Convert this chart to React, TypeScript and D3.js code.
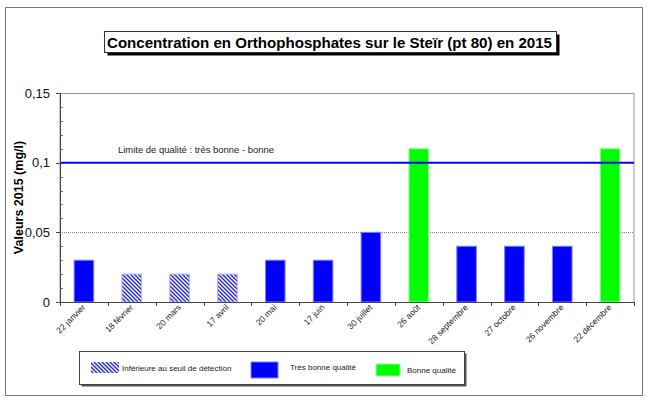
import React from "react";
import * as d3 from "d3";

const categories = [
  "22 janvier", "18 février", "20 mars", "17 avril", "20 mai", "17 juin",
  "30 juillet", "26 août", "28 septembre", "27 octobre", "26 novembre", "22 décembre",
];
const values = [0.03, 0.02, 0.02, 0.02, 0.03, 0.03, 0.05, 0.11, 0.04, 0.04, 0.04, 0.11];
// d = inférieure au seuil de détection, tb = très bonne qualité, b = bonne qualité
const quality = ["tb", "d", "d", "d", "tb", "tb", "tb", "b", "tb", "tb", "tb", "b"];
const yTicks = [0, 0.05, 0.1, 0.15];
const yTickLabels = ["0", "0,05", "0,1", "0,15"];
const minorTicks = [0.01, 0.02, 0.03, 0.04, 0.06, 0.07, 0.08, 0.09, 0.11, 0.12, 0.13, 0.14];
const threshold = 0.1;
const legendItems = [
  { key: "d", label: "Inférieure au seuil de détection" },
  { key: "tb", label: "Très bonne qualité" },
  { key: "b", label: "Bonne qualité" },
];

const FONT = "'Liberation Sans', Arial, Helvetica, sans-serif";

export default function App() {
  const W = 649, H = 401;
  const left = 60, right = 634, top = 93, bottom = 302;
  const x = d3.scaleBand<string>().domain(categories).range([left, right]).padding(0);
  const xb = d3.scaleBand<string>().domain(categories).range([left, right]).paddingInner(0.59).paddingOuter(0.295);
  const y = d3.scaleLinear().domain([0, 0.15]).range([bottom, top]);

  const fillFor = (q: string) => (q === "d" ? "url(#hatch)" : q === "tb" ? "#0000ff" : "#00ff00");
  const strokeFor = (q: string) => (q === "d" ? "#b0b0ff" : q === "tb" ? "#8080ff" : "#90ff90");

  const boundaries = categories.map((c) => x(c)!).concat([right]);

  return (
    <svg width={W} height={H} style={{ position: "absolute", left: 0, top: 0, background: "#fff" }} fontFamily={FONT}>
      <defs>
        <pattern id="hatch" patternUnits="userSpaceOnUse" width={4} height={4}>
          <rect width={4} height={4} fill="#ffffff" />
          <path d="M-1,-1 L5,5 M-1,3 L1,5 M3,-1 L5,1" stroke="#2a2aff" strokeWidth={1.5} />
        </pattern>
      </defs>

      {/* outer frame */}
      <rect x={5.5} y={7.5} width={637} height={388} fill="#fff" stroke="#777" strokeWidth={1} />

      {/* title */}
      <rect x={107.5} y={34.5} width={452} height={21} fill="#000" />
      <rect x={104.5} y={31.5} width={452} height={21} fill="#fff" stroke="#333" strokeWidth={1} />
      <text x={107} y={47.5} fontSize={15} fontWeight="bold" fill="#000" textLength={445} lengthAdjust="spacingAndGlyphs">
        Concentration en Orthophosphates sur le Steïr (pt 80) en 2015
      </text>

      {/* plot area border */}
      <rect x={left} y={top + 0.5} width={right - left} height={bottom - top} fill="none" stroke="#999" strokeWidth={1} />

      {/* dotted gridline */}
      {[0.05].map((v) => (
        <line key={v} x1={left} x2={right} y1={Math.round(y(v)) + 0.5} y2={Math.round(y(v)) + 0.5} stroke="#888" strokeDasharray="1,1" />
      ))}

      {/* bars */}
      {categories.map((c, i) => (
        <rect
          key={c}
          x={xb(c)!}
          y={y(values[i])}
          width={xb.bandwidth()}
          height={y(0) - y(values[i])}
          fill={fillFor(quality[i])}
          stroke={strokeFor(quality[i])}
          strokeWidth={1}
        />
      ))}

      {/* threshold line */}
      <line x1={left} x2={right} y1={y(threshold)} y2={y(threshold)} stroke="#0000ff" strokeWidth={2} />
      <text x={118} y={152.5} fontSize={9.5} fill="#222" textLength={156} lengthAdjust="spacingAndGlyphs">
        Limite de qualité : très bonne - bonne
      </text>

      {/* y axis */}
      <line x1={left + 0.5} x2={left + 0.5} y1={top} y2={bottom} stroke="#444" />
      {yTicks.map((t, i) => (
        <g key={t}>
          <line x1={left - 4} x2={left} y1={Math.round(y(t)) + 0.5} y2={Math.round(y(t)) + 0.5} stroke="#444" />
          <text x={50} y={y(t)} dy="0.35em" textAnchor="end" fontSize={13} fill="#111">
            {yTickLabels[i]}
          </text>
        </g>
      ))}
      {minorTicks.map((t) => (
        <line key={t} x1={left} x2={left + 3} y1={Math.round(y(t)) + 0.5} y2={Math.round(y(t)) + 0.5} stroke="#666" />
      ))}
      <text transform={`translate(23,${(top + bottom) / 2}) rotate(-90)`} textAnchor="middle" fontSize={12.5} fontWeight="bold" fill="#000">
        Valeurs 2015 (mg/l)
      </text>

      {/* x axis */}
      <line x1={left} x2={right} y1={bottom + 0.5} y2={bottom + 0.5} stroke="#444" />
      {boundaries.map((b, i) => (
        <line key={i} x1={Math.round(b) + 0.5} x2={Math.round(b) + 0.5} y1={bottom} y2={bottom + 4} stroke="#444" />
      ))}
      {categories.map((c) => {
        const cx = x(c)! + x.bandwidth() / 2 + 2;
        const cy = 308;
        return (
          <text key={c} transform={`translate(${cx},${cy}) rotate(-45)`} textAnchor="end" fontSize={8.5} fill="#222">
            {c}
          </text>
        );
      })}

      {/* legend */}
      <rect x={81.5} y={353.5} width={385} height={33} fill="#555" />
      <rect x={79.5} y={351.5} width={385} height={33} fill="#fff" stroke="#444" />
      <rect x={91} y={362} width={28} height={11} fill={fillFor("d")} />
      <text x={122} y={370.5} fontSize={8} fill="#222">{legendItems[0].label}</text>
      <rect x={251} y={362} width={27} height={16} fill={fillFor("tb")} stroke={strokeFor("tb")} />
      <text x={290} y={369.5} fontSize={8} fill="#222">{legendItems[1].label}</text>
      <rect x={376} y={364} width={24} height={12} fill={fillFor("b")} stroke={strokeFor("b")} />
      <text x={407} y={372.5} fontSize={8} fill="#222">{legendItems[2].label}</text>
    </svg>
  );
}
